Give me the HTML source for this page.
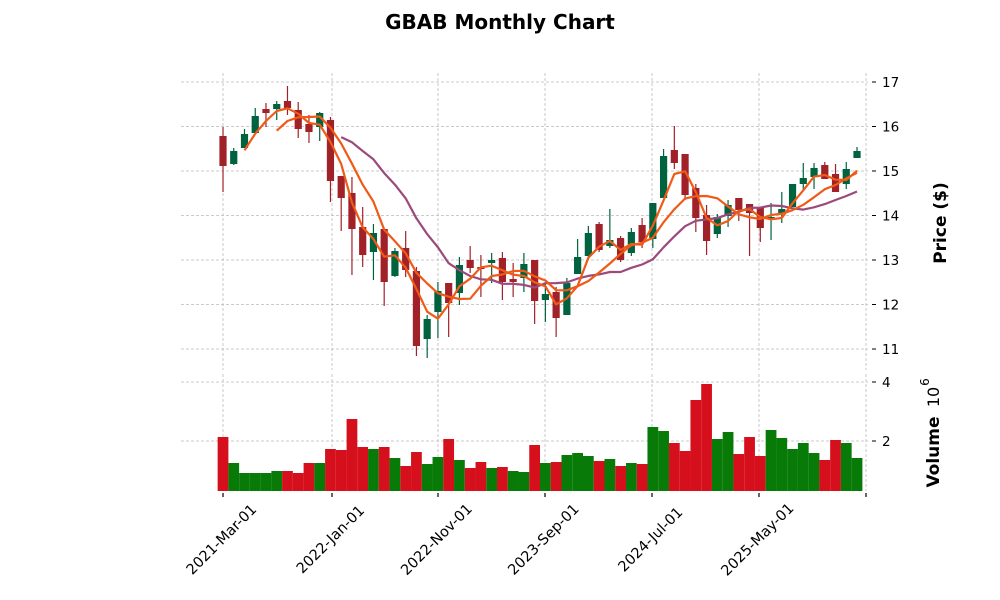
<!DOCTYPE html>
<html><head><meta charset="utf-8"><style>
body{margin:0;background:#fff;}
svg{display:block;font-family:"DejaVu Sans","Liberation Sans",sans-serif;}
</style></head><body>
<svg id="s" width="1000" height="600" viewBox="0 0 1000 600" xmlns="http://www.w3.org/2000/svg">
<rect width="1000" height="600" fill="#fff"/>
<text x="500" y="29" text-anchor="middle" font-size="20" font-weight="bold" fill="#000">GBAB Monthly Chart</text>
<g id="grid" stroke="#bbb" stroke-width="0.8" stroke-dasharray="3,2"></g>
<g id="vol"></g>
<g id="cand"></g>
<g id="ma" fill="none" stroke-width="2.2" stroke-linejoin="round"></g>
<g id="ax" font-size="13.5" fill="#000"></g>
<text transform="translate(946,223) rotate(-90)" text-anchor="middle" font-size="17" font-weight="bold">Price ($)</text>
<text transform="translate(939,452) rotate(-90)" text-anchor="middle" font-size="17" font-weight="bold">Volume</text>
<text transform="translate(939,397) rotate(-90)" text-anchor="middle" font-size="16">10</text>
<text transform="translate(929,382) rotate(-90)" text-anchor="middle" font-size="12">6</text>
</svg>
<script>
var C=[[136,166,127,192,0],[151,164,148,165,1],[134,148,129,148,1],[116,133,108,133,1],[109,113,103,127,0],[104,109,101,120,1],[101,108,86,115,0],[110,129,102,138,0],[124,132,115,143,0],[113,127,112,141,1],
[120,181,117,202,0],[176,198,176,231,0],[193,229,177,275,0],[227,255,207,267,0],[233,252,224,280,1],[229,282,229,306,0],[251,276,248,277,1],[248,270,231,277,0],[271,346,267,356,0],[319,339,315,358,1],
[291,312,282,338,1],[283,303,283,337,0],[265,293,257,305,1],[260,268,246,273,0],[267,269,255,297,0],[260,263,253,283,1],[258,282,252,300,0],[279,282,263,297,0],[264,278,253,292,1],[260,301,260,324,0],
[294,300,283,322,1],[292,318,287,337,0],[283,315,278,315,1],[257,274,239,274,1],[233,256,226,260,1],[224,250,222,252,0],[240,246,209,248,1],[238,260,236,262,0],[232,253,228,256,1],[225,242,218,248,0],
[203,239,203,248,1],[156,198,149,198,1],[150,163,126,169,0],[154,195,154,200,0],[188,218,184,232,0],[215,241,205,255,0],[217,234,214,238,1],[205,216,200,227,1],[198,210,198,221,0],[204,213,204,256,0],
[207,228,207,242,0],[217,218,203,240,1],[209,213,192,223,1],[184,207,184,207,1],[178,184,163,190,1],[168,177,163,189,1],[165,179,162,179,0],[174,192,164,192,0],[169,184,162,189,1],[151,158,147,158,1]];
var V=[[437,0],[463,1],[473,1],[473,1],[473,1],[471,1],[471,0],[473,0],[463,0],[463,1],[449,0],[450,0],[419,0],[447,0],[449,1],[447,0],[458,1],[466,0],[452,0],[464,1],
[457,1],[439,0],[460,1],[468,0],[462,0],[468,1],[467,0],[471,1],[472,1],[445,0],[463,1],[462,0],[455,1],[453,1],[456,1],[461,0],[459,1],[466,0],[463,1],[464,0],
[427,1],[431,1],[443,0],[451,0],[400,0],[384,0],[439,1],[432,1],[454,0],[437,0],[456,0],[430,1],[438,1],[449,1],[443,1],[453,1],[460,0],[440,0],[443,1],[458,1]];
var X=function(i){return 223+i*10.746;};
var ns="http://www.w3.org/2000/svg";
function el(p,t,a,txt){var e=document.createElementNS(ns,t);for(var k in a)e.setAttribute(k,a[k]);if(txt!=null)e.textContent=txt;document.getElementById(p).appendChild(e);return e;}
for(var p=11;p<=17;p++){var y=82+(17-p)*44.5;el('grid','line',{x1:181,x2:868,y1:y,y2:y});}
[382,441].forEach(function(y){el('grid','line',{x1:181,x2:868,y1:y,y2:y});});
var tx=[223,332,438,545,652,759,866];
tx.forEach(function(x){el('grid','line',{x1:x,x2:x,y1:73,y2:370});el('grid','line',{x1:x,x2:x,y1:374,y2:491});});
V.forEach(function(v,i){el('vol','rect',{x:X(i)-5.37,y:v[0],width:10.75,height:491-v[0],fill:v[1]?'#077a07':'#d50f1c'});});
C.forEach(function(c,i){var x=X(i),col=c[4]?'#006340':'#a02128';
el('cand','line',{x1:x,x2:x,y1:c[2],y2:c[3],stroke:col,'stroke-width':1.2});
el('cand','rect',{x:x-3.6,y:c[0],width:7.2,height:Math.max(1.5,c[1]-c[0]),fill:col});});
var cl=C.map(function(c){return c[4]?c[0]:c[1];});
function ma(n,col){var pts=[];for(var i=n-1;i<cl.length;i++){var s=0;for(var j=i-n+1;j<=i;j++)s+=cl[j];pts.push(X(i).toFixed(1)+','+(s/n).toFixed(1));}
el('ma','polyline',{points:pts.join(' '),stroke:col});}
ma(12,'#9b4a7c');ma(6,'#f05a16');ma(3,'#f05a16');
for(var p=11;p<=17;p++){var y=82+(17-p)*44.5;el('ax','line',{x1:872,x2:876,y1:y,y2:y,stroke:'#000'});el('ax','text',{x:882,y:y+5},String(p));}
[[382,'4'],[441,'2']].forEach(function(a){el('ax','line',{x1:872,x2:876,y1:a[0],y2:a[0],stroke:'#000'});el('ax','text',{x:882,y:a[0]+5},a[1]);});
var lab=['2021-Mar-01','2022-Jan-01','2022-Nov-01','2023-Sep-01','2024-Jul-01','2025-May-01',''];
tx.forEach(function(x,i){el('ax','line',{x1:x,x2:x,y1:493,y2:497,stroke:'#000','stroke-width':1.2});
if(lab[i])el('ax','text',{transform:'translate('+(x-1)+',540) rotate(-45)','text-anchor':'middle','dominant-baseline':'middle','font-size':'14.5'},lab[i]);});
</script>
</body></html>
